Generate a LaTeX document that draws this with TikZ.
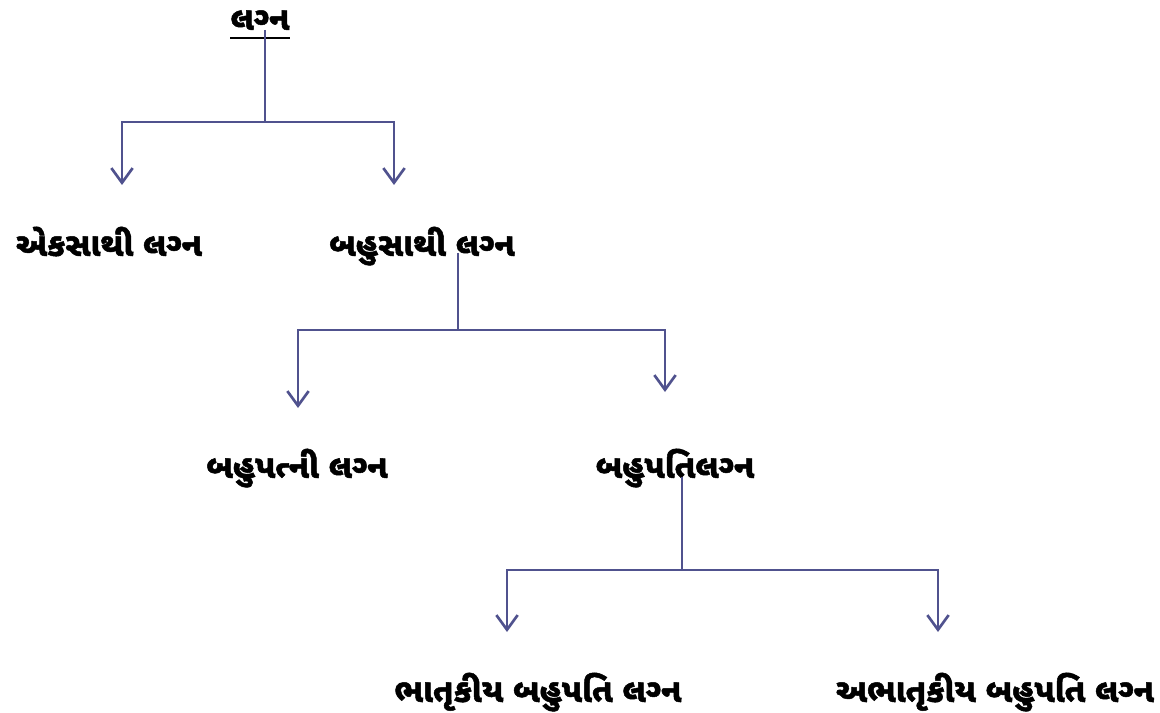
\documentclass[tikz,border=0pt]{standalone}
\usepackage{fontspec}
\newfontfamily\guj[Script=Gujarati, BoldFeatures={FakeBold=1.5}]{Noto Sans Gujarati UI}
\usetikzlibrary{arrows.meta}
\definecolor{lineblue}{HTML}{50528E}
\tikzset{
  lbl/.style={font=\guj\bfseries\fontsize{24.5}{28}\selectfont, inner sep=0pt, anchor=base},
  conn/.style={draw=lineblue, line width=2pt},
  tip/.style={conn, -{Straight Barb[length=11pt,width=16pt,line width=2pt]}}
}
\begin{document}
\begin{tikzpicture}[x=0.75pt, y=-0.75pt]
  \useasboundingbox (0,0) rectangle (1160,713);
  % labels
  \node[lbl] (lagna) at (260,30) {લગ્‍ન};
  \node[lbl] (ek) at (109,256) {એકસાથી લગ્‍ન};
  \node[lbl] (bahu) at (422,256) {બહુસાથી લગ્‍ન};
  \node[lbl] (patni) at (297,478) {બહુપત્ની લગ્‍ન};
  \node[lbl] (pati) at (675,478) {બહુપતિલગ્‍ન};
  \node[lbl] (bhat) at (538,702) {ભાતૃકીય બહુપતિ લગ્‍ન};
  \node[lbl] (abhat) at (995,702) {અભાતૃકીય બહુપતિ લગ્‍ન};
  \draw[line width=0.8pt] (230,38) -- (290,38);
  % junctions
  \coordinate (j1) at (265,122);
  \coordinate (j2) at (458,330);
  \coordinate (j3) at (682,570);
  % first level
  \draw[conn] (265,30) -- (j1);
  \draw[tip] (j1) -| (122,185);
  \draw[tip] (j1) -| (394,185);
  % second level
  \draw[conn] (458,253) -- (j2);
  \draw[tip] (j2) -| (298,408);
  \draw[tip] (j2) -| (665,392);
  % third level
  \draw[conn] (682,477) -- (j3);
  \draw[tip] (j3) -| (507,632);
  \draw[tip] (j3) -| (938,632);
\end{tikzpicture}
\end{document}
